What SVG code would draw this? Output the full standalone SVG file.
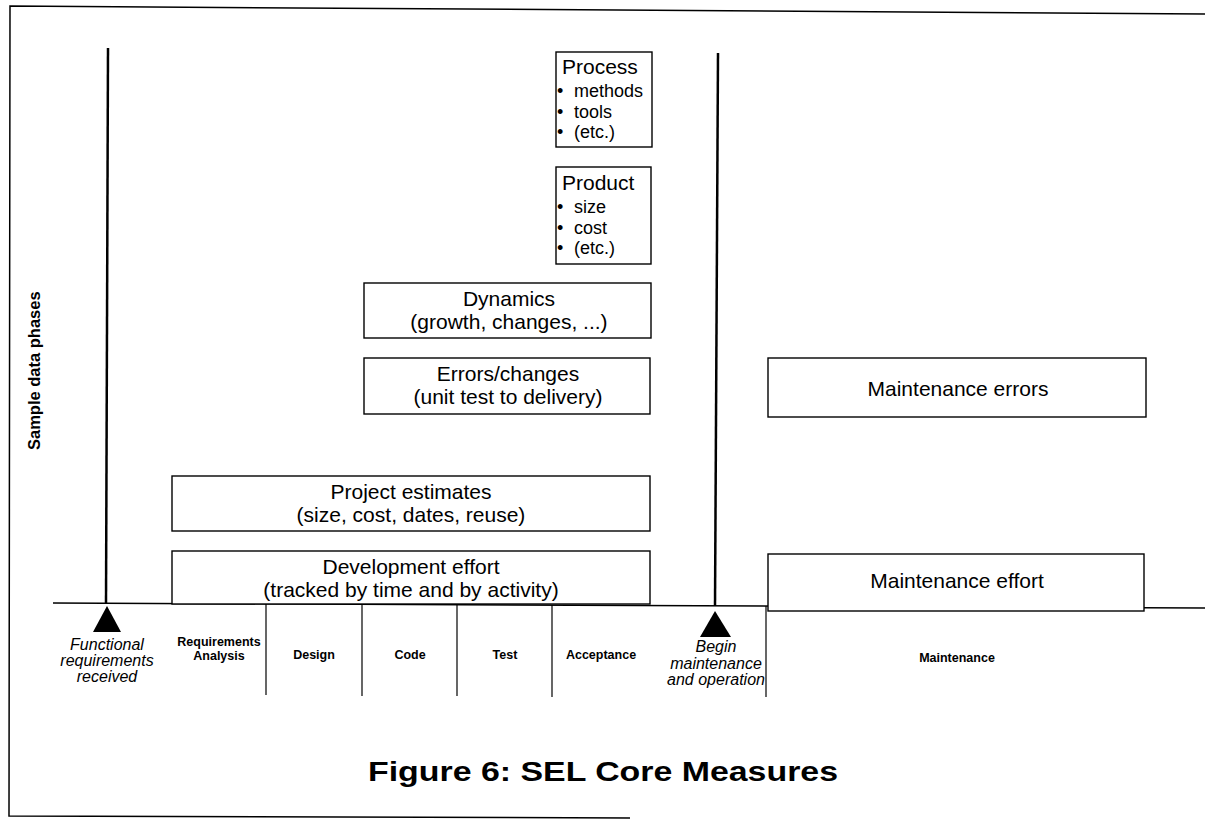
<svg xmlns="http://www.w3.org/2000/svg" width="1205" height="821" viewBox="0 0 1205 821">
<style>
.box{fill:#fff;stroke:#000;stroke-width:1.4}
.t{font-family:"Liberation Sans",Arial,sans-serif;font-size:21px;fill:#000;text-anchor:middle}
.s{font-family:"Liberation Sans",Arial,sans-serif;font-size:21px;fill:#000}
.b{font-family:"Liberation Sans",Arial,sans-serif;font-size:18px;fill:#000}
.ph{font-family:"Liberation Sans",Arial,sans-serif;font-size:12.5px;font-weight:bold;fill:#000;text-anchor:middle}
.it{font-family:"Liberation Sans",Arial,sans-serif;font-size:16px;font-style:italic;fill:#000;text-anchor:middle}
.ln{stroke:#000;fill:none}
</style>
<rect width="1205" height="821" fill="#fff"/>
<g id="frame">
<polyline class="ln" stroke-width="1.5" points="1205,14 10,6 9,816 630,818"/>
</g>
<g id="connectors">
<line class="ln" stroke-width="2.5" x1="108" y1="48" x2="106" y2="604"/>
<line class="ln" stroke-width="2.5" x1="718" y1="53" x2="715" y2="606"/>
<line class="ln" stroke-width="1.5" x1="53" y1="603" x2="1205" y2="608"/>
<line class="ln" stroke-width="1.2" x1="266" y1="603" x2="266" y2="695"/>
<line class="ln" stroke-width="1.2" x1="362" y1="604" x2="362" y2="696"/>
<line class="ln" stroke-width="1.2" x1="457" y1="604" x2="457" y2="696"/>
<line class="ln" stroke-width="1.2" x1="552" y1="605" x2="552" y2="697"/>
<line class="ln" stroke-width="1.2" x1="766" y1="606" x2="766" y2="697"/>
<polygon points="107,606 93,632 121,632" fill="#000"/>
<polygon points="715,611 700,637 731,637" fill="#000"/>
</g>
<g id="process">
<rect class="box" x="556" y="52" width="96" height="95"/>
<text class="s" x="562" y="74">Process</text>
<text class="b" y="97"><tspan x="557">•</tspan><tspan x="574">methods</tspan></text>
<text class="b" y="118"><tspan x="557">•</tspan><tspan x="574">tools</tspan></text>
<text class="b" y="138"><tspan x="557">•</tspan><tspan x="574">(etc.)</tspan></text>
</g>
<g id="product">
<rect class="box" x="556" y="167" width="95" height="97"/>
<text class="s" x="562" y="190">Product</text>
<text class="b" y="213"><tspan x="557">•</tspan><tspan x="574">size</tspan></text>
<text class="b" y="234"><tspan x="557">•</tspan><tspan x="574">cost</tspan></text>
<text class="b" y="254"><tspan x="557">•</tspan><tspan x="574">(etc.)</tspan></text>
</g>
<g id="dynamics">
<rect class="box" x="364" y="283" width="287" height="55"/>
<text class="t" x="509" y="306">Dynamics</text>
<text class="t" x="509" y="329">(growth, changes, ...)</text>
</g>
<g id="errors">
<rect class="box" x="364" y="358" width="286" height="56"/>
<text class="t" x="508" y="381">Errors/changes</text>
<text class="t" x="508" y="404">(unit test to delivery)</text>
</g>
<g id="maint-errors">
<rect class="box" x="768" y="358" width="378" height="59"/>
<text class="t" x="958" y="396">Maintenance errors</text>
</g>
<g id="estimates">
<rect class="box" x="172" y="476" width="478" height="55"/>
<text class="t" x="411" y="499">Project estimates</text>
<text class="t" x="411" y="522">(size, cost, dates, reuse)</text>
</g>
<g id="dev-effort">
<rect class="box" x="172" y="551" width="478" height="53"/>
<text class="t" x="411" y="574">Development effort</text>
<text class="t" x="411" y="597">(tracked by time and by activity)</text>
</g>
<g id="maint-effort">
<rect class="box" x="768" y="554" width="376" height="57"/>
<text class="t" x="957" y="588">Maintenance effort</text>
</g>
<g id="axis-label">
<text transform="translate(40,450) rotate(-90)" style="font-family:'Liberation Sans',Arial,sans-serif;font-size:16.5px;font-weight:bold">Sample data phases</text>
</g>
<g id="phases">
<text class="it" x="107" y="650">Functional</text>
<text class="it" x="107" y="666">requirements</text>
<text class="it" x="107" y="682">received</text>
<text class="ph" x="219" y="646">Requirements</text>
<text class="ph" x="219" y="660">Analysis</text>
<text class="ph" x="314" y="659">Design</text>
<text class="ph" x="410" y="659">Code</text>
<text class="ph" x="505" y="659">Test</text>
<text class="ph" x="601" y="659">Acceptance</text>
<text class="it" x="716" y="652">Begin</text>
<text class="it" x="716" y="669">maintenance</text>
<text class="it" x="716" y="685">and operation</text>
<text class="ph" x="957" y="662">Maintenance</text>
</g>
<g id="title">
<text x="603" y="781" textLength="470" lengthAdjust="spacingAndGlyphs" style="font-family:'Liberation Sans',Arial,sans-serif;font-size:28px;font-weight:bold;text-anchor:middle">Figure 6:  SEL Core Measures</text>
</g>
</svg>
